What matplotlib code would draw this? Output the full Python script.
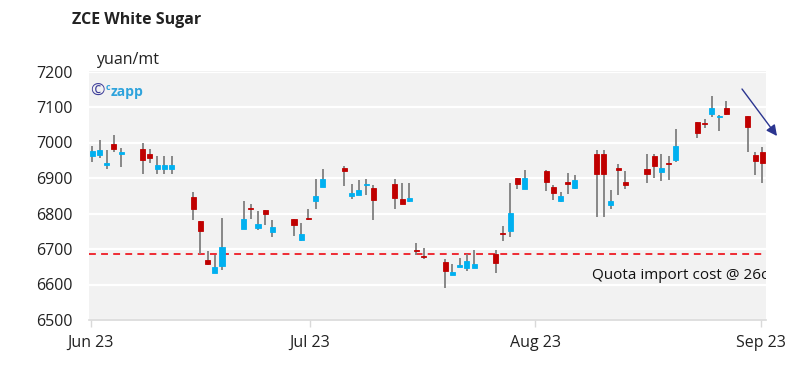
"""
ZCE White Sugar daily candles (Jun - Sep 2023)
"""

import matplotlib
matplotlib.use('Agg')
import matplotlib.pyplot as plt
import numpy as np
import pandas as pd

plt.rcParams['font.family'] = ['Open Sans', 'DejaVu Sans']

# candle dates: five sessions per block, as shown on the chart
start = pd.Timestamp('2023-06-01')
days = pd.date_range(start, '2023-09-02')
dates = [d for d in days if (d - start).days % 7 < 5]

opens = [6962, 6964, 6936, 6997, 6968,
         6982, 6968, 6924, 6924, 6924,
         6846, 6778, 6668, 6631, 6652,
         6755, 6815, 6760, 6810, 6748,
         6784, 6725, 6787, 6836, 6875,
         6929, 6850, 6852, 6879, 6872,
         6883, 6840, 6836, 6697, 6680,
         6664, 6627, 6650, 6647, 6647,
         6686, 6745, 6750, 6900, 6870,
         6920, 6875, 6834, 6890, 6873,
         6969, 6968, 6823, 6927, 6890,
         6926, 6961, 6918, 6942, 6952,
         7059, 7055, 7080, 7072, 7098,
         7075, 6964, 6973]
closes = [6975, 6979, 6942, 6983, 6973,
          6952, 6956, 6938, 6938, 6938,
          6814, 6751, 6659, 6648, 6705,
          6784, 6812, 6771, 6799, 6761,
          6768, 6742, 6784, 6849, 6896,
          6919, 6857, 6866, 6883, 6839,
          6844, 6828, 6844, 6693, 6677,
          6639, 6636, 6655, 6666, 6658,
          6661, 6742, 6802, 6882, 6900,
          6889, 6858, 6849, 6883, 6894,
          6912, 6911, 6834, 6922, 6881,
          6911, 6934, 6928, 6939, 6991,
          7027, 7051, 7096, 7075, 7079,
          7043, 6948, 6942]
highs = [6989, 7006, 6978, 7021, 6985,
         7000, 6981, 6961, 6961, 6961,
         6861, 6778, 6695, 6683, 6787,
         6836, 6828, 6806, 6811, 6781,
         6785, 6772, 6814, 6898, 6926,
         6933, 6884, 6894, 6896, 6880,
         6898, 6886, 6886, 6716, 6704,
         6673, 6659, 6676, 6687, 6697,
         6697, 6764, 6886, 6900, 6922,
         6922, 6880, 6861, 6915, 6908,
         6978, 6978, 6866, 6939, 6920,
         6967, 6967, 6969, 6961, 7037,
         7059, 7067, 7130, 7078, 7118,
         7075, 6973, 6987]
lows = [6945, 6957, 6925, 6972, 6931,
        6912, 6942, 6912, 6912, 6912,
        6783, 6687, 6656, 6631, 6642,
        6755, 6785, 6753, 6769, 6734,
        6738, 6723, 6781, 6814, 6875,
        6878, 6842, 6851, 6853, 6783,
        6814, 6828, 6833, 6683, 6671,
        6589, 6626, 6650, 6639, 6647,
        6631, 6723, 6734, 6870, 6870,
        6864, 6837, 6833, 6854, 6870,
        6791, 6791, 6813, 6853, 6870,
        6886, 6901, 6892, 6895, 6946,
        7013, 7042, 7072, 7031, 7078,
        6973, 6908, 6886]

quota_cost = 6685
quota_label = 'Quota import cost @ 26c'
month_labels = ['Jun 23', 'Jul 23', 'Aug 23', 'Sep 23']

# 軸上の月ラベル位置（チャート上の位置）
month_pos = [-0.22, 30.18, 61.52, 92.85]

RED = '#c00000'
BLUE = '#00b0f0'

fig = plt.figure(figsize=(8.07, 3.69), dpi=100)
ax = fig.add_axes([89 / 807, 1 - 320 / 369, (766 - 89) / 807, (320 - 71.5) / 369])
ax.set_facecolor('#f2f2f2')

x = np.array([(d - start).days for d in dates], dtype=float)
o = np.array(opens, dtype=float)
c = np.array(closes, dtype=float)
h = np.array(highs, dtype=float)
l = np.array(lows, dtype=float)

up = c >= o
colors = np.where(up, BLUE, RED)

# ヒゲ
ax.vlines(x, l, h, color='#7f7f7f', linewidth=1.3, zorder=3)

# 実体
bottom = np.minimum(o, c)
height = np.maximum(np.abs(c - o), 4)
ax.bar(x, height, bottom=bottom, width=0.7, color=colors, edgecolor=colors,
       linewidth=0.6, zorder=4)

# クォータ輸入コスト
ax.axhline(quota_cost, color='#ee1c25', linewidth=1.3,
           linestyle=(0, (3.8, 2.9)), zorder=2)
ax.text(69.4, 6626, quota_label, fontsize=11, color='#111111',
        va='center', ha='left', clip_on=True, zorder=5)

ax.set_xlim(-0.46, 93.52)
ax.set_ylim(6500, 7200)
ax.set_yticks(np.arange(6500, 7201, 100))
ax.grid(axis='y', color='white', linewidth=1.6, zorder=1)
ax.set_axisbelow(True)

ax.set_xticks(month_pos)
ax.set_xticklabels(month_labels)

for side in ['top', 'right', 'left']:
    ax.spines[side].set_visible(False)
ax.spines['bottom'].set_color('#d9d9d9')
ax.spines['bottom'].set_linewidth(1.2)

ax.tick_params(axis='y', length=0, pad=12, labelsize=11.5, labelcolor='#222222')
ax.tick_params(axis='x', length=5, width=1, color='#d9d9d9', pad=6,
               labelsize=11.5, labelcolor='#222222')

# タイトルと単位
fig.text(72 / 807, 1 - 20 / 369, 'ZCE White Sugar', fontsize=11.5,
         fontweight='bold', color='#222222', va='center', ha='left')
fig.text(96 / 807, 1 - 60 / 369, 'yuan/mt', fontsize=11.5,
         color='#222222', va='center', ha='left')

# ロゴ
fig.text(90 / 807, 1 - 92 / 369, '©', fontsize=12.5, color='#3d3d99',
         va='center', ha='left')
fig.text(106 / 807, 1 - 88 / 369, 'c', fontsize=6.5, fontweight='bold',
         color='#2ea3dc', va='center', ha='left')
fig.text(111 / 807, 1 - 92 / 369, 'zapp', fontsize=10, fontweight='bold',
         color='#2ea3dc', va='center', ha='left')

# 矢印
ax.annotate('', xy=(777 / 807, 1 - 136 / 369), xycoords='figure fraction',
            xytext=(742 / 807, 1 - 89 / 369), textcoords='figure fraction',
            arrowprops=dict(arrowstyle='-|>', color='#2b3590', lw=1,
                            mutation_scale=16, shrinkA=0, shrinkB=0),
            annotation_clip=False)

fig.savefig('out.png', dpi=100)
